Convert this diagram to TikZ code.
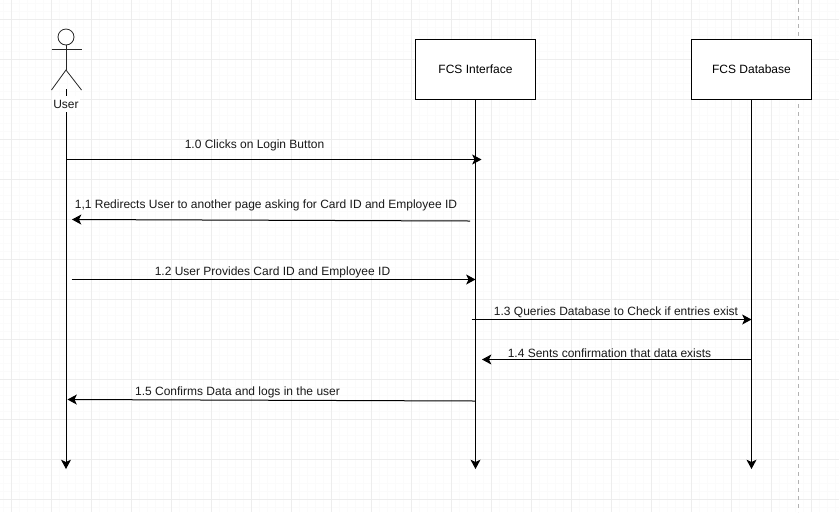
\documentclass[tikz,border=0pt]{standalone}
\usepackage{fontspec}
\setmainfont{Liberation Sans}
\usetikzlibrary{arrows.meta}
\tikzset{
  lbl/.style={inner sep=0pt,font=\fontsize{9}{11}\selectfont,text=black!90},
  boxnode/.style={draw=black,line width=0.75pt,fill=white,minimum width=90pt,minimum height=45pt,inner sep=0pt,font=\fontsize{9}{11}\selectfont},
  msg/.style={line width=0.75pt,-{Stealth[length=7pt,width=7.5pt,inset=1.8pt]}},
  stick/.style={line width=0.6pt,draw=black!85}
}
\begin{document}
\begin{tikzpicture}[x=0.75pt,y=-0.75pt]
\useasboundingbox (0,0) rectangle (839,512);
\fill[white] (0,0) rectangle (839,512);
% minor grid
\foreach \k in {0,...,104}{\draw[black!1.5,line width=0.5pt] ({3.5+8*\k},0) -- ({3.5+8*\k},512);}
\foreach \k in {0,...,64}{\draw[black!1.5,line width=0.5pt] (0,{3.5+8*\k}) -- (839,{3.5+8*\k});}
% major grid
\foreach \k in {0,...,20}{\draw[black!7,line width=0.75pt] ({11.5+40*\k},0) -- ({11.5+40*\k},512);}
\foreach \k in {0,...,12}{\draw[black!7,line width=0.75pt] (0,{19.5+40*\k}) -- (839,{19.5+40*\k});}
\draw[black!30,dashed,line width=0.5pt] (798.5,0) -- (798.5,512);

% coordinates
\coordinate (uEnd) at (66,469);
\coordinate (iEnd) at (475.5,469);
\coordinate (dEnd) at (751.5,469);
\coordinate (uTop) at (66,89);
\coordinate (m0a) at (66.5,159.5);   \coordinate (m0b) at (481.5,159.5);
\coordinate (m1a) at (470,221);      \coordinate (m1b) at (72,219.5);
\coordinate (m2a) at (71.5,279.5);   \coordinate (m2b) at (475.5,279.5);
\coordinate (m3a) at (471.5,319.5);  \coordinate (m3b) at (751.5,319.5);
\coordinate (m4a) at (751.5,359.5);  \coordinate (m4b) at (482,359.5);
\coordinate (m5a) at (475.5,401);    \coordinate (m5b) at (67.5,399.5);

% lifelines
\draw[msg] (uTop) -- (uEnd);
\node[boxnode] (iface) at (475.5,69.5) {FCS Interface};
\node[boxnode] (db) at (751.5,69.5) {FCS Database};
\draw[msg] (iface.south) -- (iEnd);
\draw[msg] (db.south) -- (dEnd);

% actor
\draw[stick,fill=white] (66,37) circle (8);
\coordinate (neck) at (66,45);
\coordinate (hip) at (66,70);
\draw[stick] (neck) -- (hip);
\draw[stick] (51.5,49.5) -- (81.5,49.5);
\draw[stick] (51.5,90) -- (hip) -- (81.5,90);
\node[lbl,fill=white,inner xsep=1pt,inner ysep=3pt] (user) at (66,104) {User};

% messages
\draw[msg] (m0a) -- (m0b);
\draw[msg] (m1a) -- (m1b);
\draw[msg] (m2a) -- (m2b);
\draw[msg] (m3a) -- (m3b);
\draw[msg] (m4a) -- (m4b);
\draw[msg] (m5a) -- (m5b);

% labels
\node[lbl] (t0) at (254.5,145.5) {1.0 Clicks on Login Button};
\node[lbl] (t1) at (266,205.5) {1,1 Redirects User to another page asking for Card ID and Employee ID};
\node[lbl] (t2) at (272.5,272) {1.2 User Provides Card ID and Employee ID};
\node[lbl] (t3) at (616,312.5) {1.3 Queries Database to Check if entries exist};
\node[lbl] (t4) at (609.5,353.5) {1.4 Sents confirmation that data exists};
\node[lbl] (t5) at (237.5,392) {1.5 Confirms Data and logs in the user};
\end{tikzpicture}
\end{document}
